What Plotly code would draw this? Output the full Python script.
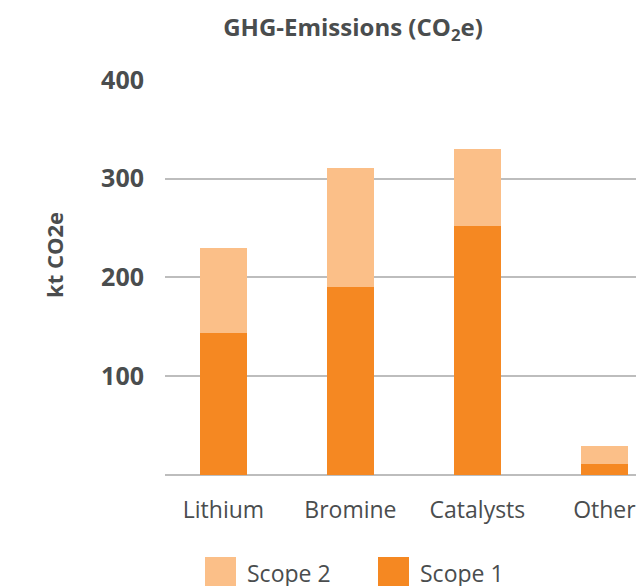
import plotly.graph_objects as go

categories = ["Lithium", "Bromine", "Catalysts", "Other"]
scope1 = [144, 190, 252, 11]
scope2 = [86, 121, 78, 18]
y_ticks = [100, 200, 300, 400]

C1 = "#F58822"
C2 = "#FBBF88"
TXT = "#4a4d4e"
FONT = "Open Sans, Noto Sans, sans-serif"

fig = go.Figure()
fig.add_trace(go.Bar(x=categories, y=scope1, name="Scope 1", marker_color=C1,
                     width=0.37, marker_line_width=0, showlegend=False))
fig.add_trace(go.Bar(x=categories, y=scope2, name="Scope 2", marker_color=C2,
                     width=0.37, marker_line_width=0, showlegend=False))

# page body has an 8px margin, so the figure is laid out 8px lower/right
W, H = 644, 578
L, R, T, B = 157, 0, 71, 111
PW, PH = W - L - R, H - T - B

fig.update_layout(
    barmode="stack",
    width=W, height=H,
    margin=dict(l=L, r=R, t=T, b=B),
    paper_bgcolor="white", plot_bgcolor="white",
    font=dict(family=FONT, color=TXT),
    title=dict(text="<b>GHG-Emissions (CO<sub>2</sub>e)</b>", x=345 / W, xanchor="center",
               xref="container", y=1 - 20 / H, yanchor="middle", yref="container",
               font=dict(size=24, color=TXT, family=FONT)),
    showlegend=False,
)
fig.update_xaxes(range=[-0.46, -0.46 + PW / 127], showgrid=False, showline=False, ticks="",
                 tickfont=dict(size=23, color=TXT, family=FONT), ticklabelstandoff=19)
fig.update_yaxes(range=[0, 401], tickvals=y_ticks, ticktext=[f"<b>{v}</b>" for v in y_ticks],
                 showgrid=True, gridcolor="#bdbdbd", gridwidth=1.5,
                 zeroline=True, zerolinecolor="#bdbdbd", zerolinewidth=2,
                 showline=False, ticks="", ticklabelstandoff=20,
                 tickfont=dict(size=25, color=TXT, family=FONT))

fig.add_annotation(text="<b>kt CO2e</b>", xref="paper", yref="paper", showarrow=False,
                   x=(46 - L) / PW, xanchor="center", y=(H - B - 247) / PH, yanchor="middle",
                   textangle=-90, font=dict(size=22, color=TXT, family=FONT))

# custom legend (large swatches)
legend_items = [("Scope 2", C2, 197), ("Scope 1", C1, 370)]
for name, col, x0 in legend_items:
    fig.add_shape(type="rect", xref="paper", yref="paper",
                  x0=(x0 - L) / PW, x1=(x0 + 31 - L) / PW,
                  y0=(H - B - 580) / PH, y1=(H - B - 549) / PH,
                  fillcolor=col, line_width=0, layer="above")
    fig.add_annotation(text=name, xref="paper", yref="paper", showarrow=False,
                       x=(x0 + 40 - L) / PW, xanchor="left",
                       y=(H - B - 565) / PH, yanchor="middle",
                       font=dict(size=23, color=TXT, family=FONT))

fig.write_html("out.html")
